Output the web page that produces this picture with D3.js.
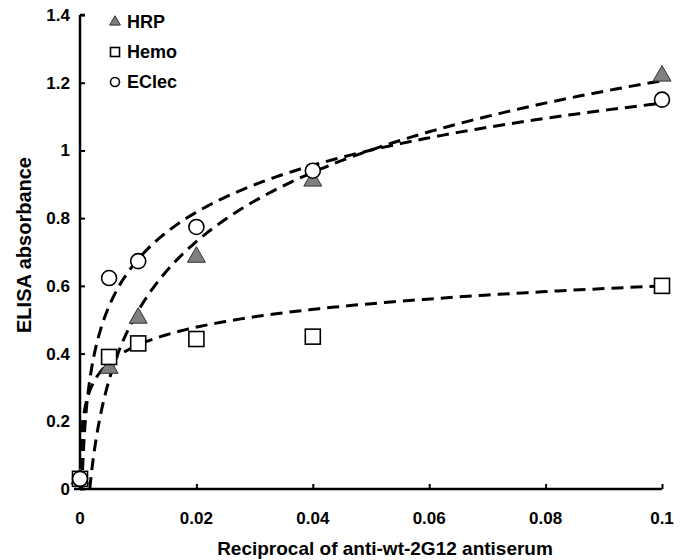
<!DOCTYPE html>
<html>
<head>
<meta charset="utf-8">
<script src="https://cdn.jsdelivr.net/npm/d3@7"></script>
<style>
  body { margin: 0; background: #fff; }
  svg text { font-family: "Liberation Sans", Arial, sans-serif; font-weight: bold; fill: #000; }
</style>
</head>
<body>
<svg id="chart" width="690" height="560"></svg>
<script>
// dilutions (reciprocal of antiserum)
const dilutions = [0, 0.005, 0.01, 0.02, 0.04, 0.1];

// absorbance per antigen
const hrpValues   = [0.03, 0.357, 0.505, 0.685, 0.91, 1.22];
const hemoValues  = [0.03, 0.39, 0.43, 0.443, 0.45, 0.60];
const eclecValues = [0.03, 0.623, 0.673, 0.774, 0.94, 1.15];

// logarithmic trendlines y = a*ln(x) + b
const trendSlope     = [0.295, 0.0758, 0.2];
const trendIntercept = [1.885, 0.7745, 1.6];

const seriesNames = ['HRP', 'Hemo', 'EClec'];
const xTicks = [0, 0.02, 0.04, 0.06, 0.08, 0.1];
const yTicks = [0, 0.2, 0.4, 0.6, 0.8, 1, 1.2, 1.4];

const svg = d3.select('#chart');

// plot area
const x = d3.scaleLinear().domain([0, 0.1]).range([80, 662]);
const y = d3.scaleLinear().domain([0, 1.4]).range([489, 15]);

const series = [
    {name: seriesNames[0], values: hrpValues, shape: 'triangle'},
    {name: seriesNames[1], values: hemoValues, shape: 'square'},
    {name: seriesNames[2], values: eclecValues, shape: 'circle'}
];

svg.append('clipPath').attr('id', 'plot-clip')
    .append('rect')
    .attr('x', x(0)).attr('y', y(1.4))
    .attr('width', x(0.1) - x(0)).attr('height', y(0) - y(1.4));

const line = d3.line()
    .x(d => x(d[0]))
    .y(d => y(d[1]));

// dashed trend curves
series.forEach((s, k) => {
    const a = trendSlope[k], b = trendIntercept[k];
    const x0 = Math.exp(-b / a);   // where the trend reaches zero
    const samples = d3.range(0, 241).map(i => x0 * Math.pow(0.1 / x0, i / 240));
    svg.append('path')
        .attr('clip-path', 'url(#plot-clip)')
        .attr('d', line(samples.map(v => [v, a * Math.log(v) + b])))
        .attr('fill', 'none')
        .attr('stroke', '#000')
        .attr('stroke-width', 3)
        .attr('stroke-dasharray', '12,7');
});

// axes
const yAxis = svg.append('g')
    .attr('transform', `translate(${x(0)},0)`)
    .call(d3.axisRight(y).tickValues(yTicks).tickSize(5).tickFormat(''));
yAxis.select('.domain').attr('stroke-width', 2.5).attr('d', `M0,${y(1.4)}H5M0,${y(1.4)}V${y(0)}`);
yAxis.selectAll('.tick line').attr('stroke-width', 2);

const xAxis = svg.append('g')
    .attr('transform', `translate(0,${y(0)})`)
    .call(d3.axisTop(x).tickValues(xTicks.slice(1)).tickSize(5).tickFormat(''));
xAxis.select('.domain').attr('stroke-width', 2.5).attr('d', `M${x(0) - 6},0H${x(0.1)}`);
xAxis.selectAll('.tick line').attr('stroke-width', 2);

svg.selectAll('.ylab')
    .data(yTicks)
    .join('text')
    .attr('x', 70)
    .attr('y', d => y(d) + 6)
    .attr('text-anchor', 'end')
    .style('font-size', '17px')
    .text(d => d3.format('~g')(d));

svg.selectAll('.xlab')
    .data(xTicks)
    .join('text')
    .attr('x', d => x(d))
    .attr('y', 524)
    .attr('text-anchor', 'middle')
    .style('font-size', '17px')
    .text(d => d3.format('~g')(d));

svg.append('text')
    .attr('x', 385)
    .attr('y', 555)
    .attr('text-anchor', 'middle')
    .style('font-size', '19px')
    .text('Reciprocal of anti-wt-2G12 antiserum');

svg.append('text')
    .attr('transform', 'translate(31,245) rotate(-90)')
    .attr('text-anchor', 'middle')
    .style('font-size', '20px')
    .text('ELISA absorbance');

// markers
function drawMarker(g, shape, cx, cy, size) {
    if (shape === 'triangle') {
        g.append('path')
            .attr('d', d3.symbol(d3.symbolTriangle, size * size * 0.62)())
            .attr('transform', `translate(${cx},${cy})`)
            .attr('fill', '#7f7f7f').attr('stroke', '#333').attr('stroke-width', 1);
    } else if (shape === 'square') {
        g.append('rect')
            .attr('x', cx - size / 2).attr('y', cy - size / 2)
            .attr('width', size).attr('height', size)
            .attr('fill', '#fff').attr('stroke', '#000').attr('stroke-width', 1.6);
    } else {
        g.append('circle')
            .attr('cx', cx).attr('cy', cy).attr('r', size / 2)
            .attr('fill', '#fff').attr('stroke', '#000').attr('stroke-width', 1.6);
    }
}

const marks = svg.append('g');
series.forEach(s => {
    s.values.forEach((v, i) => drawMarker(marks, s.shape, x(dilutions[i]), y(v), 15));
});

// legend
const legend = svg.append('g');
series.forEach((s, i) => {
    const ly = 22 + i * 30;
    drawMarker(legend, s.shape, 115, ly, 9);
    legend.append('text')
        .attr('x', 127)
        .attr('y', ly + 6)
        .style('font-size', '18px')
        .text(s.name);
});
</script>
</body>
</html>
